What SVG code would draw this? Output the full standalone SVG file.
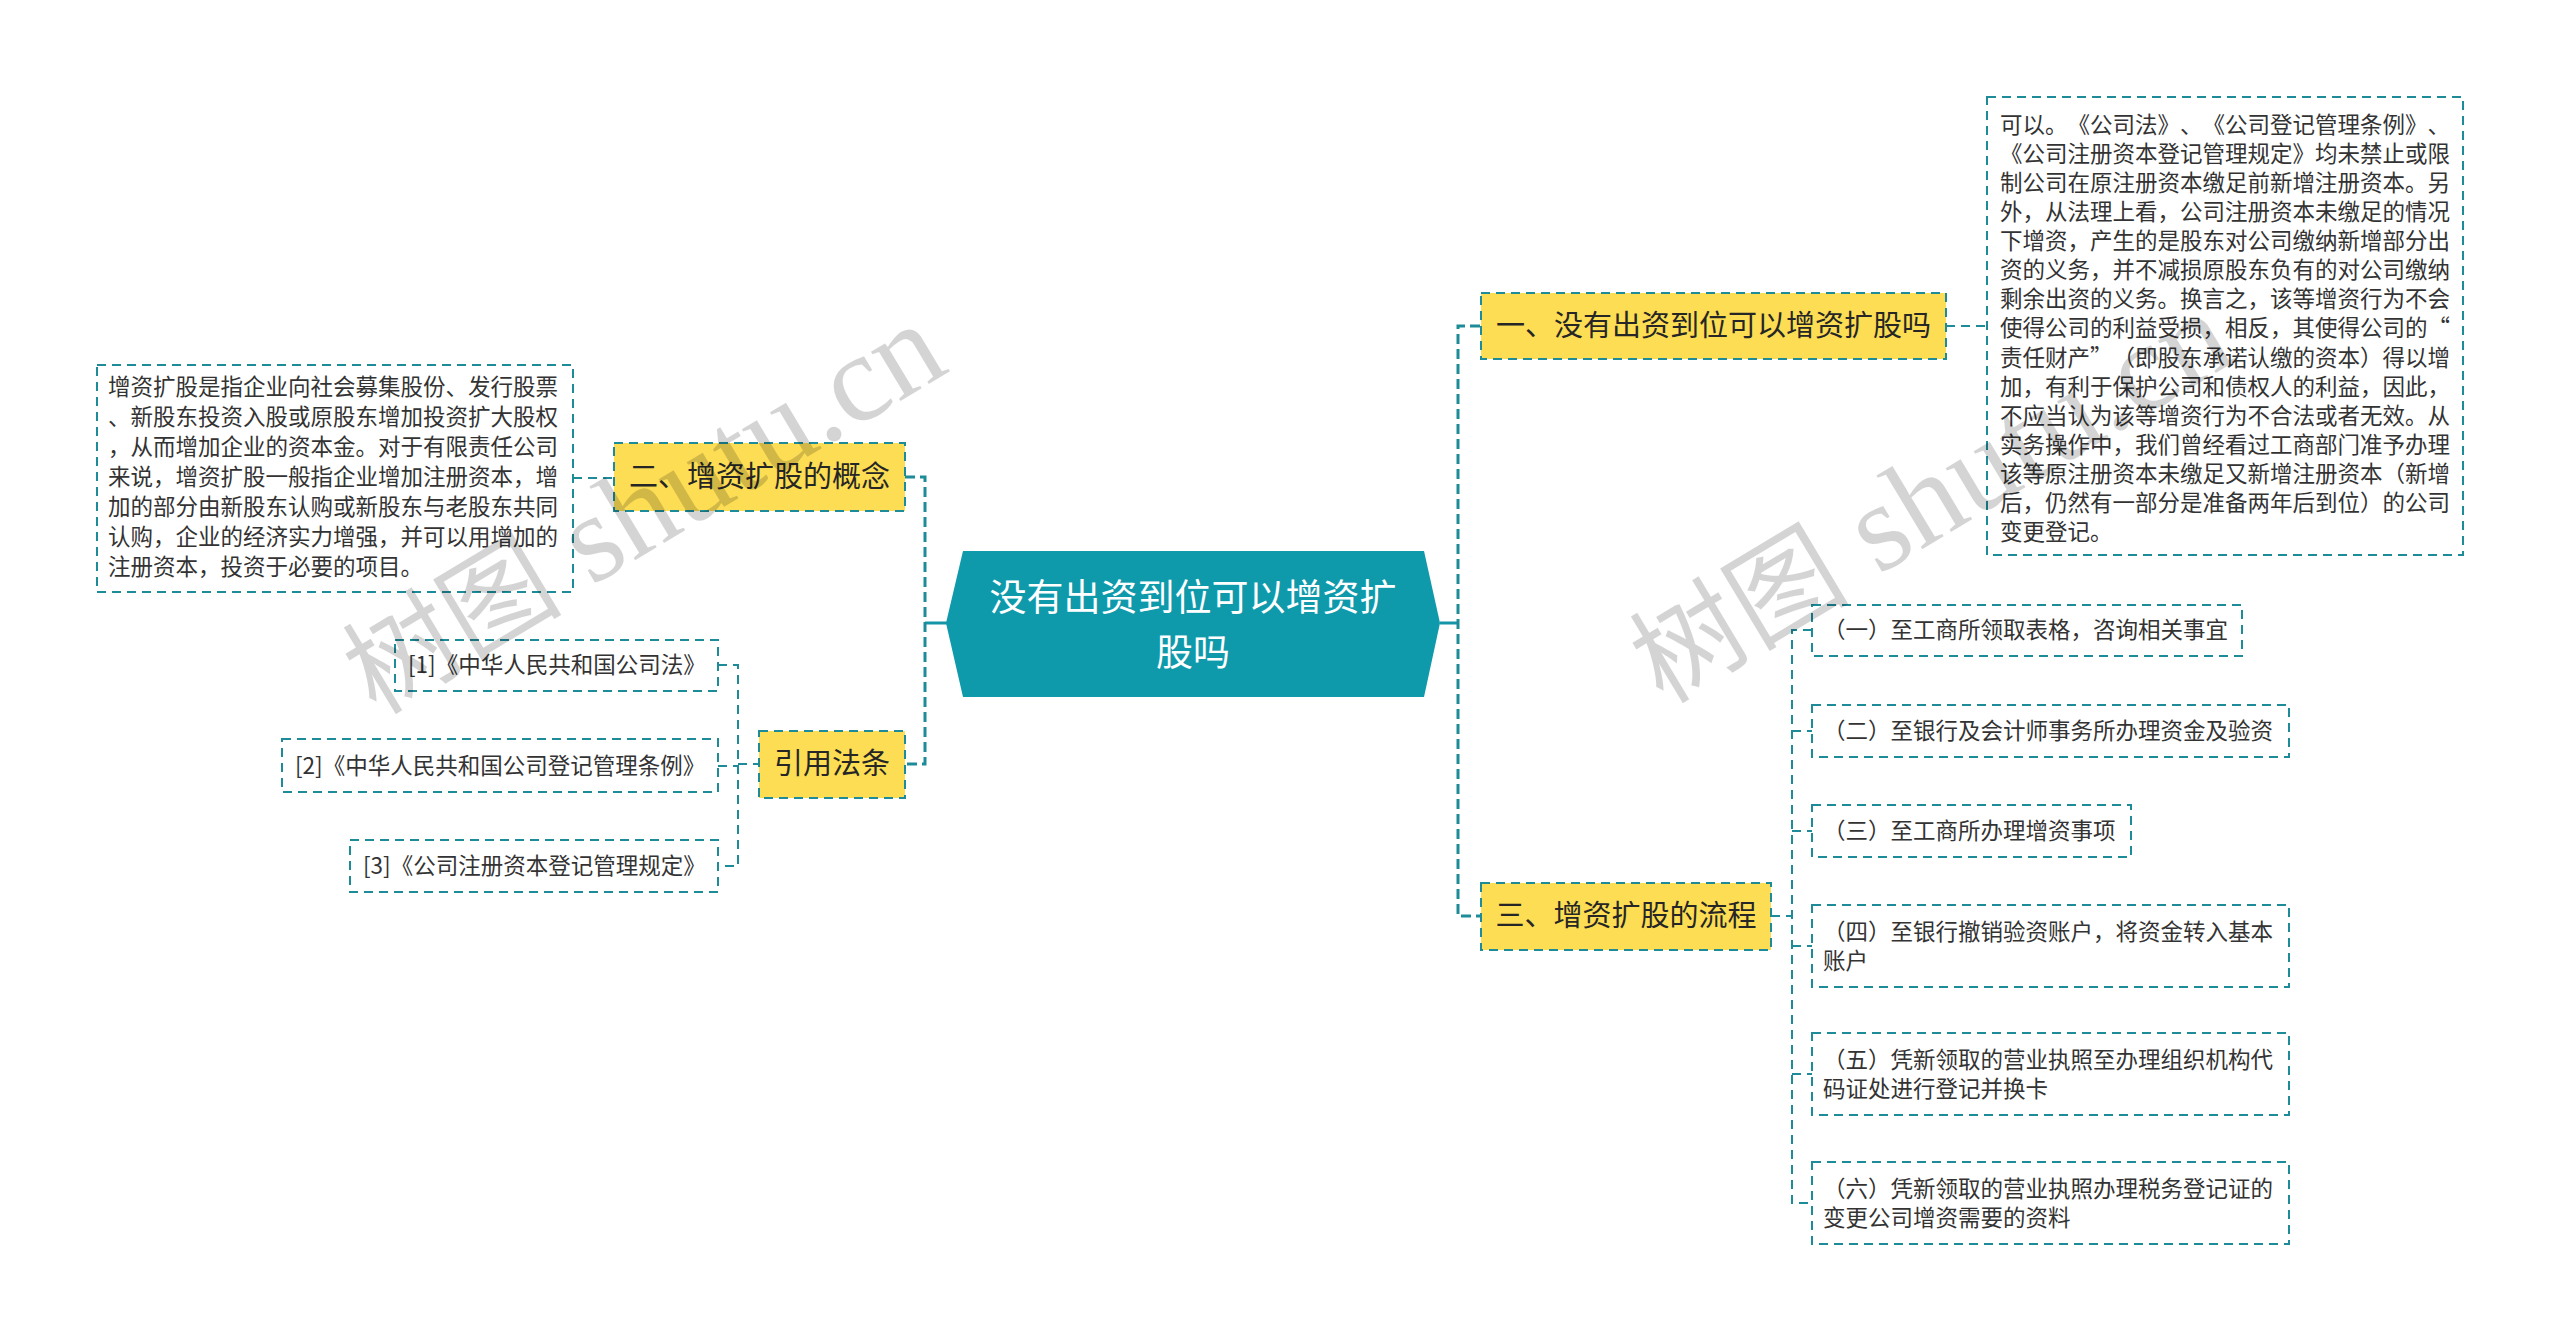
<svg xmlns="http://www.w3.org/2000/svg" width="2560" height="1341" viewBox="0 0 2560 1341">
<style>
.bg{fill:#ffffff}
.box{fill:#ffffff;stroke:#1e8b98;stroke-width:2;stroke-dasharray:9 6}
.topic{fill:#fcdd53;stroke:#1e8b98;stroke-width:2;stroke-dasharray:9 6}
.t{font-family:"Noto Sans CJK SC","Noto Sans",sans-serif;fill:#333333;text-spacing-trim:space-all}
.small{font-size:22.5px}
.mid{font-size:29px;text-anchor:middle;fill:#262626}
.root{font-size:37px;text-anchor:middle;fill:#ffffff}
.con{fill:none;stroke:#1e8b98;stroke-width:2;stroke-dasharray:9 6}
.trunk{fill:none;stroke:#1e8b98;stroke-width:3;stroke-dasharray:10 5}
.solid{fill:none;stroke:#1496a6;stroke-width:3}
.wm{font-family:"Liberation Serif","Noto Sans CJK SC",serif;font-size:125px;fill:#000000;fill-opacity:0.17}
.wmc{font-family:"Noto Sans CJK SC",sans-serif;font-size:110px}
</style>
<rect class="bg" x="0" y="0" width="2560" height="1341"/>

<g id="connectors">
  <line class="solid" x1="925" y1="623" x2="947" y2="623"/>
  <line class="solid" x1="1440" y1="623" x2="1458" y2="623"/>
  <path class="trunk" d="M905,477 H925 V764 H905"/>
  <path class="trunk" d="M1480,326 H1458 V916 H1480"/>
  <line class="con" x1="573" y1="478" x2="614" y2="478"/>
  <line class="con" x1="1946" y1="326" x2="1987" y2="326"/>
  <path class="con" d="M718,665 H738 V866 H718 M718,766 H738 M738,764 H759"/>
  <path class="con" d="M1771,916 H1792 M1812,630 H1792 V1203 H1812 M1792,731 H1812 M1792,831 H1812 M1792,946 H1812 M1792,1074 H1812"/>
</g>

<g id="root">
  <polygon points="963,551 1424,551 1440,623 1424,697 963,697 946,623" fill="#0f9aab"/>
  <text class="t root" x="1193"><tspan x="1193" y="611">没有出资到位可以增资扩</tspan><tspan x="1193" y="666">股吗</tspan></text>
</g>

<g id="node-concept">
  <rect class="topic" x="614" y="443" width="291" height="68"/>
  <text class="t mid" x="759.5" y="487">二、增资扩股的概念</text>
</g>
<g id="node-concept-detail">
  <rect class="box" x="97" y="365" width="476" height="227"/>
  <text class="t small" x="108" y="395"><tspan x="108" y="395">增资扩股是指企业向社会募集股份、发行股票</tspan><tspan x="108" y="425">、新股东投资入股或原股东增加投资扩大股权</tspan><tspan x="108" y="455">，从而增加企业的资本金。对于有限责任公司</tspan><tspan x="108" y="485">来说，增资扩股一般指企业增加注册资本，增</tspan><tspan x="108" y="515">加的部分由新股东认购或新股东与老股东共同</tspan><tspan x="108" y="545">认购，企业的经济实力增强，并可以用增加的</tspan><tspan x="108" y="575">注册资本，投资于必要的项目。</tspan></text>
</g>

<g id="node-laws">
  <rect class="topic" x="759" y="731" width="146" height="67"/>
  <text class="t mid" x="832" y="774">引用法条</text>
</g>
<g id="node-law1">
  <rect class="box" x="395" y="640" width="323" height="51"/>
  <text class="t small" x="408" y="673">[1]《中华人民共和国公司法》</text>
</g>
<g id="node-law2">
  <rect class="box" x="282" y="739" width="436" height="53"/>
  <text class="t small" x="295" y="774">[2]《中华人民共和国公司登记管理条例》</text>
</g>
<g id="node-law3">
  <rect class="box" x="350" y="840" width="368" height="52"/>
  <text class="t small" x="363" y="874">[3]《公司注册资本登记管理规定》</text>
</g>

<g id="node-q1">
  <rect class="topic" x="1481" y="293" width="465" height="66"/>
  <text class="t mid" x="1713.5" y="336">一、没有出资到位可以增资扩股吗</text>
</g>
<g id="node-q1-detail">
  <rect class="box" x="1987" y="97" width="476" height="458"/>
  <text class="t small" x="2000" y="133"><tspan x="2000" y="133">可以。《公司法》、《公司登记管理条例》、</tspan><tspan x="2000" dy="29.07">《公司注册资本登记管理规定》均未禁止或限</tspan><tspan x="2000" dy="29.07">制公司在原注册资本缴足前新增注册资本。另</tspan><tspan x="2000" dy="29.07">外，从法理上看，公司注册资本未缴足的情况</tspan><tspan x="2000" dy="29.07">下增资，产生的是股东对公司缴纳新增部分出</tspan><tspan x="2000" dy="29.07">资的义务，并不减损原股东负有的对公司缴纳</tspan><tspan x="2000" dy="29.07">剩余出资的义务。换言之，该等增资行为不会</tspan><tspan x="2000" dy="29.07">使得公司的利益受损，相反，其使得公司的“</tspan><tspan x="2000" dy="29.07">责任财产”（即股东承诺认缴的资本）得以增</tspan><tspan x="2000" dy="29.07">加，有利于保护公司和债权人的利益，因此，</tspan><tspan x="2000" dy="29.07">不应当认为该等增资行为不合法或者无效。从</tspan><tspan x="2000" dy="29.07">实务操作中，我们曾经看过工商部门准予办理</tspan><tspan x="2000" dy="29.07">该等原注册资本未缴足又新增注册资本（新增</tspan><tspan x="2000" dy="29.07">后，仍然有一部分是准备两年后到位）的公司</tspan><tspan x="2000" dy="29.07">变更登记。</tspan></text>
</g>

<g id="node-q3">
  <rect class="topic" x="1481" y="883" width="290" height="67"/>
  <text class="t mid" x="1626" y="926">三、增资扩股的流程</text>
</g>
<g id="node-s1">
  <rect class="box" x="1812" y="605" width="430" height="51"/>
  <text class="t small" x="1823" y="638">（一）至工商所领取表格，咨询相关事宜</text>
</g>
<g id="node-s2">
  <rect class="box" x="1812" y="705" width="477" height="52"/>
  <text class="t small" x="1823" y="739">（二）至银行及会计师事务所办理资金及验资</text>
</g>
<g id="node-s3">
  <rect class="box" x="1812" y="805" width="319" height="52"/>
  <text class="t small" x="1823" y="839">（三）至工商所办理增资事项</text>
</g>
<g id="node-s4">
  <rect class="box" x="1812" y="905" width="477" height="82"/>
  <text class="t small" x="1823"><tspan x="1823" y="940">（四）至银行撤销验资账户，将资金转入基本</tspan><tspan x="1823" y="969">账户</tspan></text>
</g>
<g id="node-s5">
  <rect class="box" x="1812" y="1033" width="477" height="82"/>
  <text class="t small" x="1823"><tspan x="1823" y="1068">（五）凭新领取的营业执照至办理组织机构代</tspan><tspan x="1823" y="1097">码证处进行登记并换卡</tspan></text>
</g>
<g id="node-s6">
  <rect class="box" x="1812" y="1162" width="477" height="82"/>
  <text class="t small" x="1823"><tspan x="1823" y="1197">（六）凭新领取的营业执照办理税务登记证的</tspan><tspan x="1823" y="1226">变更公司增资需要的资料</tspan></text>
</g>

<g id="watermark">
  <text class="wm" x="376" y="716" transform="rotate(-31 376 716)"><tspan class="wmc">树图</tspan> shutu.cn</text>
  <text class="wm" x="1663" y="705" transform="rotate(-31 1663 705)"><tspan class="wmc">树图</tspan> shutu.cn</text>
</g>
</svg>
